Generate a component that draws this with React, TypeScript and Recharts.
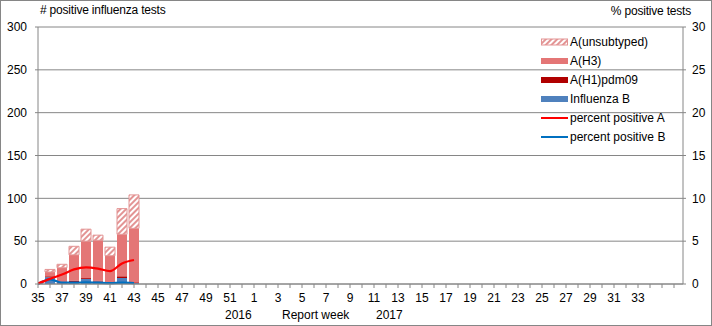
import { Bar, CartesianGrid, ComposedChart, Line, XAxis, YAxis } from 'recharts'

// report weeks shown on the axis (season 2016/17)
const WEEKS = [
  '35', '36', '37', '38', '39', '40', '41', '42', '43', '44', '45', '46', '47', '48', '49', '50', '51', '52',
  '1', '2', '3', '4', '5', '6', '7', '8', '9', '10', '11', '12', '13', '14', '15', '16', '17', '18',
  '19', '20', '21', '22', '23', '24', '25', '26', '27', '28', '29', '30', '31', '32', '33', '34', '35', '36',
]
// last week that gets a label
const LAST_LABEL = '33'

// counts for the weeks reported so far (35..43)
const INFLUENZA_B = [1, 8, 1, 2, 6, 3, 1, 7, 1]
const A_H1PDM09 = [0, 1, 1, 2, 1, 1, 0, 2, 1]
const A_H3 = [1, 5, 17, 30, 43, 47, 32, 49, 63]
const A_UNSUBTYPED = [0, 3, 4, 10, 14, 6, 10, 30, 39]

// percent positive (right axis)
const PCT_A = [0.05, 0.6, 1.1, 1.7, 1.95, 1.8, 1.5, 2.4, 2.8]
const PCT_B = [0, 0.55, 0.15, 0.15, 0.2, 0.15, 0.1, 0.15, 0.1]

const LEFT_TICKS = [0, 50, 100, 150, 200, 250, 300]
const RIGHT_TICKS = [0, 5, 10, 15, 20, 25, 30]

const FONT = '"Liberation Sans", Arial, sans-serif'
const GRID = '#868686'

const C_B = '#4F81BD'
const C_H1 = '#B00000'
const C_H3 = '#E47676'
const C_UNSUB = '#E39494'
const C_PCT_A = '#FF0000'
const C_PCT_B = '#0070C0'

const data = WEEKS.map((w, i) => ({
  idx: i,
  week: w,
  b: INFLUENZA_B[i],
  h1: A_H1PDM09[i],
  h3: A_H3[i],
  unsub: A_UNSUBTYPED[i],
  pctA: PCT_A[i],
  pctB: PCT_B[i],
}))

const TICK_IDX = WEEKS.map((_, i) => i)
const LAST_LABEL_IDX = WEEKS.lastIndexOf(LAST_LABEL)

function WeekTick(props: any) {
  const { x, y, payload } = props
  if (payload.value % 2 !== 0 || payload.value > LAST_LABEL_IDX) return <g />
  return (
    <text x={x} y={y} dy="0.71em" textAnchor="middle" fontSize={12} fill="#000" fontFamily={FONT}>
      {WEEKS[payload.value]}
    </text>
  )
}

const LEGEND = [
  { label: 'A(unsubtyped)', kind: 'hatch' },
  { label: 'A(H3)', kind: 'box', color: C_H3 },
  { label: 'A(H1)pdm09', kind: 'box', color: C_H1 },
  { label: 'Influenza B', kind: 'box', color: C_B },
  { label: 'percent positive A', kind: 'line', color: C_PCT_A },
  { label: 'percent positive B', kind: 'line', color: C_PCT_B },
]

function Legend() {
  return (
    <div style={{ position: 'absolute', left: 541, top: 32, fontFamily: FONT, fontSize: 12 }}>
      {LEGEND.map((it) => (
        <div key={it.label} style={{ display: 'flex', alignItems: 'center', height: 19 }}>
          <svg width={28} height={10} style={{ display: 'block' }}>
            <defs>
              <pattern id="lg-hatch" patternUnits="userSpaceOnUse" width={4} height={4} patternTransform="rotate(45)">
                <rect width={4} height={4} fill="#fff" />
                <rect width={2} height={4} fill={C_UNSUB} />
              </pattern>
            </defs>
            {it.kind === 'hatch' && <rect x={0.5} y={2} width={26} height={6} fill="url(#lg-hatch)" stroke={C_UNSUB} />}
            {it.kind === 'box' && <rect x={0} y={2} width={27} height={6} fill={it.color} />}
            {it.kind === 'line' && <rect x={0} y={4} width={27} height={2} fill={it.color} />}
          </svg>
          <span style={{ marginLeft: 1, whiteSpace: 'nowrap' }}>{it.label}</span>
        </div>
      ))}
    </div>
  )
}

export default function App() {
  return (
    <div style={{ position: 'absolute', left: 0, top: 0, width: 712, height: 326, background: '#fff', fontFamily: FONT }}>
      <ComposedChart width={712} height={326} data={data} margin={{ top: 27, right: 0, bottom: 0, left: 0 }}>
        <defs>
          <pattern id="hatch" patternUnits="userSpaceOnUse" width={4} height={4} patternTransform="rotate(45)">
            <rect width={4} height={4} fill="#fff" />
            <rect width={2} height={4} fill={C_UNSUB} />
          </pattern>
        </defs>
        <CartesianGrid vertical={false} stroke={GRID} yAxisId="left" />
        <XAxis
          type="number"
          dataKey="idx"
          domain={[0, 53.75]}
          ticks={TICK_IDX}
          interval={0}
          allowDataOverflow
          height={42}
          tick={<WeekTick />}
          tickSize={4}
          tickMargin={5}
          axisLine={{ stroke: GRID }}
          tickLine={{ stroke: GRID }}
        />
        <YAxis
          yAxisId="left"
          domain={[0, 300]}
          ticks={LEFT_TICKS}
          width={38}
          tickSize={3}
          tickMargin={8}
          tick={{ fontSize: 12, fill: '#000', fontFamily: FONT }}
          axisLine={{ stroke: GRID }}
          tickLine={{ stroke: GRID }}
        />
        <YAxis
          yAxisId="right"
          orientation="right"
          domain={[0, 30]}
          ticks={RIGHT_TICKS}
          width={29}
          tickSize={3}
          tickMargin={6}
          tick={{ fontSize: 12, fill: '#000', fontFamily: FONT, textAnchor: 'start' }}
          axisLine={{ stroke: GRID }}
          tickLine={{ stroke: GRID }}
        />
        <Bar yAxisId="left" dataKey="b" stackId="s" barSize={10} fill={C_B} isAnimationActive={false} />
        <Bar yAxisId="left" dataKey="h1" stackId="s" barSize={10} fill={C_H1} isAnimationActive={false} />
        <Bar yAxisId="left" dataKey="h3" stackId="s" barSize={10} fill={C_H3} isAnimationActive={false} />
        <Bar yAxisId="left" dataKey="unsub" stackId="s" barSize={10} fill="url(#hatch)" stroke={C_UNSUB} strokeWidth={1} isAnimationActive={false} />
        <Line yAxisId="right" type="monotone" dataKey="pctB" stroke={C_PCT_B} strokeWidth={2.25} dot={false} isAnimationActive={false} />
        <Line yAxisId="right" type="monotone" dataKey="pctA" stroke={C_PCT_A} strokeWidth={2.25} dot={false} isAnimationActive={false} />
      </ComposedChart>

      <div style={{ position: 'absolute', left: 40, top: 3, fontSize: 12, letterSpacing: -0.2 }}># positive influenza tests</div>
      <div style={{ position: 'absolute', right: 21, top: 4, fontSize: 12, letterSpacing: -0.2 }}>% positive tests</div>
      <div style={{ position: 'absolute', left: 225, top: 308, fontSize: 12 }}>2016</div>
      <div style={{ position: 'absolute', left: 282, top: 308, fontSize: 12 }}>Report week</div>
      <div style={{ position: 'absolute', left: 376, top: 308, fontSize: 12 }}>2017</div>
      <Legend />
      <div style={{ position: 'absolute', inset: 0, border: '1px solid #868686', pointerEvents: 'none' }} />
    </div>
  )
}
